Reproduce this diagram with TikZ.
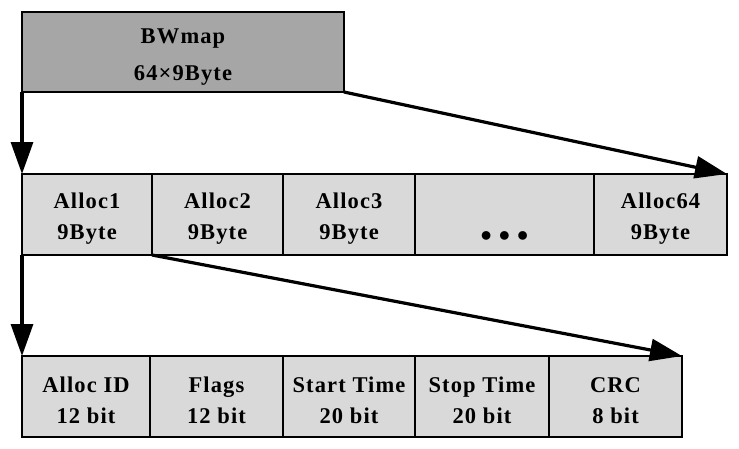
\documentclass[tikz,border=0pt]{standalone}
\usepackage{fontspec}
\setmainfont{Liberation Serif}
\newfontfamily\cellfont{Liberation Serif}[LetterSpace=5]
\usetikzlibrary{arrows.meta, positioning}
\usepackage{xcolor}
\definecolor{headgray}{HTML}{A6A6A6}
\definecolor{cellgray}{HTML}{D9D9D9}
\tikzset{
  cell/.style={draw, fill=cellgray, line width=2.8pt, anchor=north west, outer sep=0pt,
    inner sep=0pt, minimum height=81pt, align=center,
    font=\cellfont\fontsize{22.5}{31}\selectfont\bfseries},
  link/.style={line width=3.2pt, -{Triangle[length=32pt, width=22pt]}}
}
\newcommand{\cellstrut}{\rule{0pt}{24pt}}
\newcommand{\bigdot}{\smash{\raisebox{-4pt}{\fontsize{32}{32}\selectfont\textbullet}}}

\begin{document}
\begin{tikzpicture}[x=1pt, y=-1pt]
    \useasboundingbox (0,0) rectangle (739,448);

    % BWmap
    \node[cell, fill=headgray, minimum width=322pt, minimum height=80pt] (bw) at (22,12) {\cellstrut BWmap\\[6pt]64×9Byte};

    % Alloc row
    \node[cell, minimum width=130pt] (a1) at (22,174) {\cellstrut Alloc1\\9Byte};
    \node[cell, minimum width=131pt, right=0pt of a1] (a2) {\cellstrut Alloc2\\9Byte};
    \node[cell, minimum width=132pt, right=0pt of a2] (a3) {\cellstrut Alloc3\\9Byte};
    \node[cell, minimum width=179pt, right=0pt of a3] (dots) {\cellstrut~\\\bigdot\hspace{7pt}\bigdot\hspace{7pt}\bigdot};
    \node[cell, minimum width=133pt, right=0pt of dots] (a64) {\cellstrut Alloc64\\9Byte};

    % Alloc fields
    \node[cell, minimum width=128pt] (id) at (22,356) {\cellstrut Alloc ID\\12 bit};
    \node[cell, minimum width=133pt, right=0pt of id] (flags) {\cellstrut Flags\\12 bit};
    \node[cell, minimum width=132pt, right=0pt of flags] (start) {\cellstrut Start Time\\20 bit};
    \node[cell, minimum width=134pt, right=0pt of start] (stop) {\cellstrut Stop Time\\20 bit};
    \node[cell, minimum width=133pt, right=0pt of stop] (crc) {\cellstrut CRC\\8 bit};

    % Expansion arrows
    \draw[link] (bw.south west) -- (a1.north west);
    \draw[link] (bw.south east) -- (a64.north east);
    \draw[link] (a1.south west) -- (id.north west);
    \draw[link] (a1.south east) -- (crc.north east);
\end{tikzpicture}
\end{document}
